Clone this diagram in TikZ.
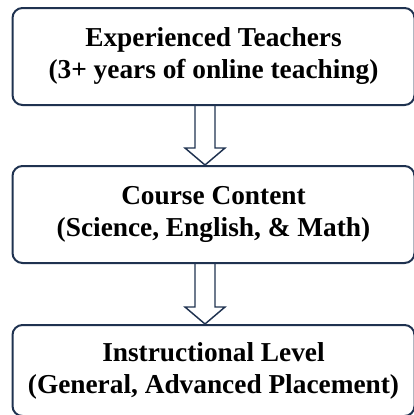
\documentclass[tikz,border=0pt]{standalone}
\usepackage{fontspec}
\setmainfont{Liberation Serif}
\usetikzlibrary{calc}
\definecolor{navy}{RGB}{31,50,80}
\begin{document}
\begin{tikzpicture}[x=0.75pt,y=-0.75pt,
  box/.style={draw=navy,line width=1.5pt,rounded corners=7.5pt,
    minimum width=301.5pt,minimum height=72.75pt,align=center,
    font=\bfseries\fontsize{20.5}{24}\selectfont,inner sep=0pt},
  hollow/.style={draw=navy,line width=1.1pt,line join=miter}]
\useasboundingbox (0,0) rectangle (414,415);
\node[box] (b1) at (213.5,56.5) {Experienced Teachers\\(3+ years of online teaching)};
\node[box] (b2) at (213.5,214.5) {Course Content\\(Science, English, \& Math)};
\node[box,minimum height=68.25pt] (b3) at (213.5,370.5) {Instructional Level\\(General, Advanced Placement)};
\draw[hollow] ($(b1.south)+(-18.5,0)$) -- ($(b2.north)+(-18.5,-17)$) -- ($(b2.north)+(-28.5,-17)$)
  -- ($(b2.north)+(-8.5,0)$) -- ($(b2.north)+(11.5,-17)$) -- ($(b2.north)+(1.5,-17)$) -- ($(b1.south)+(1.5,0)$);
\draw[hollow] ($(b2.south)+(-18.5,0)$) -- ($(b3.north)+(-18.5,-17)$) -- ($(b3.north)+(-28.5,-17)$)
  -- ($(b3.north)+(-8.5,0)$) -- ($(b3.north)+(11.5,-17)$) -- ($(b3.north)+(1.5,-17)$) -- ($(b2.south)+(1.5,0)$);
\end{tikzpicture}
\end{document}
